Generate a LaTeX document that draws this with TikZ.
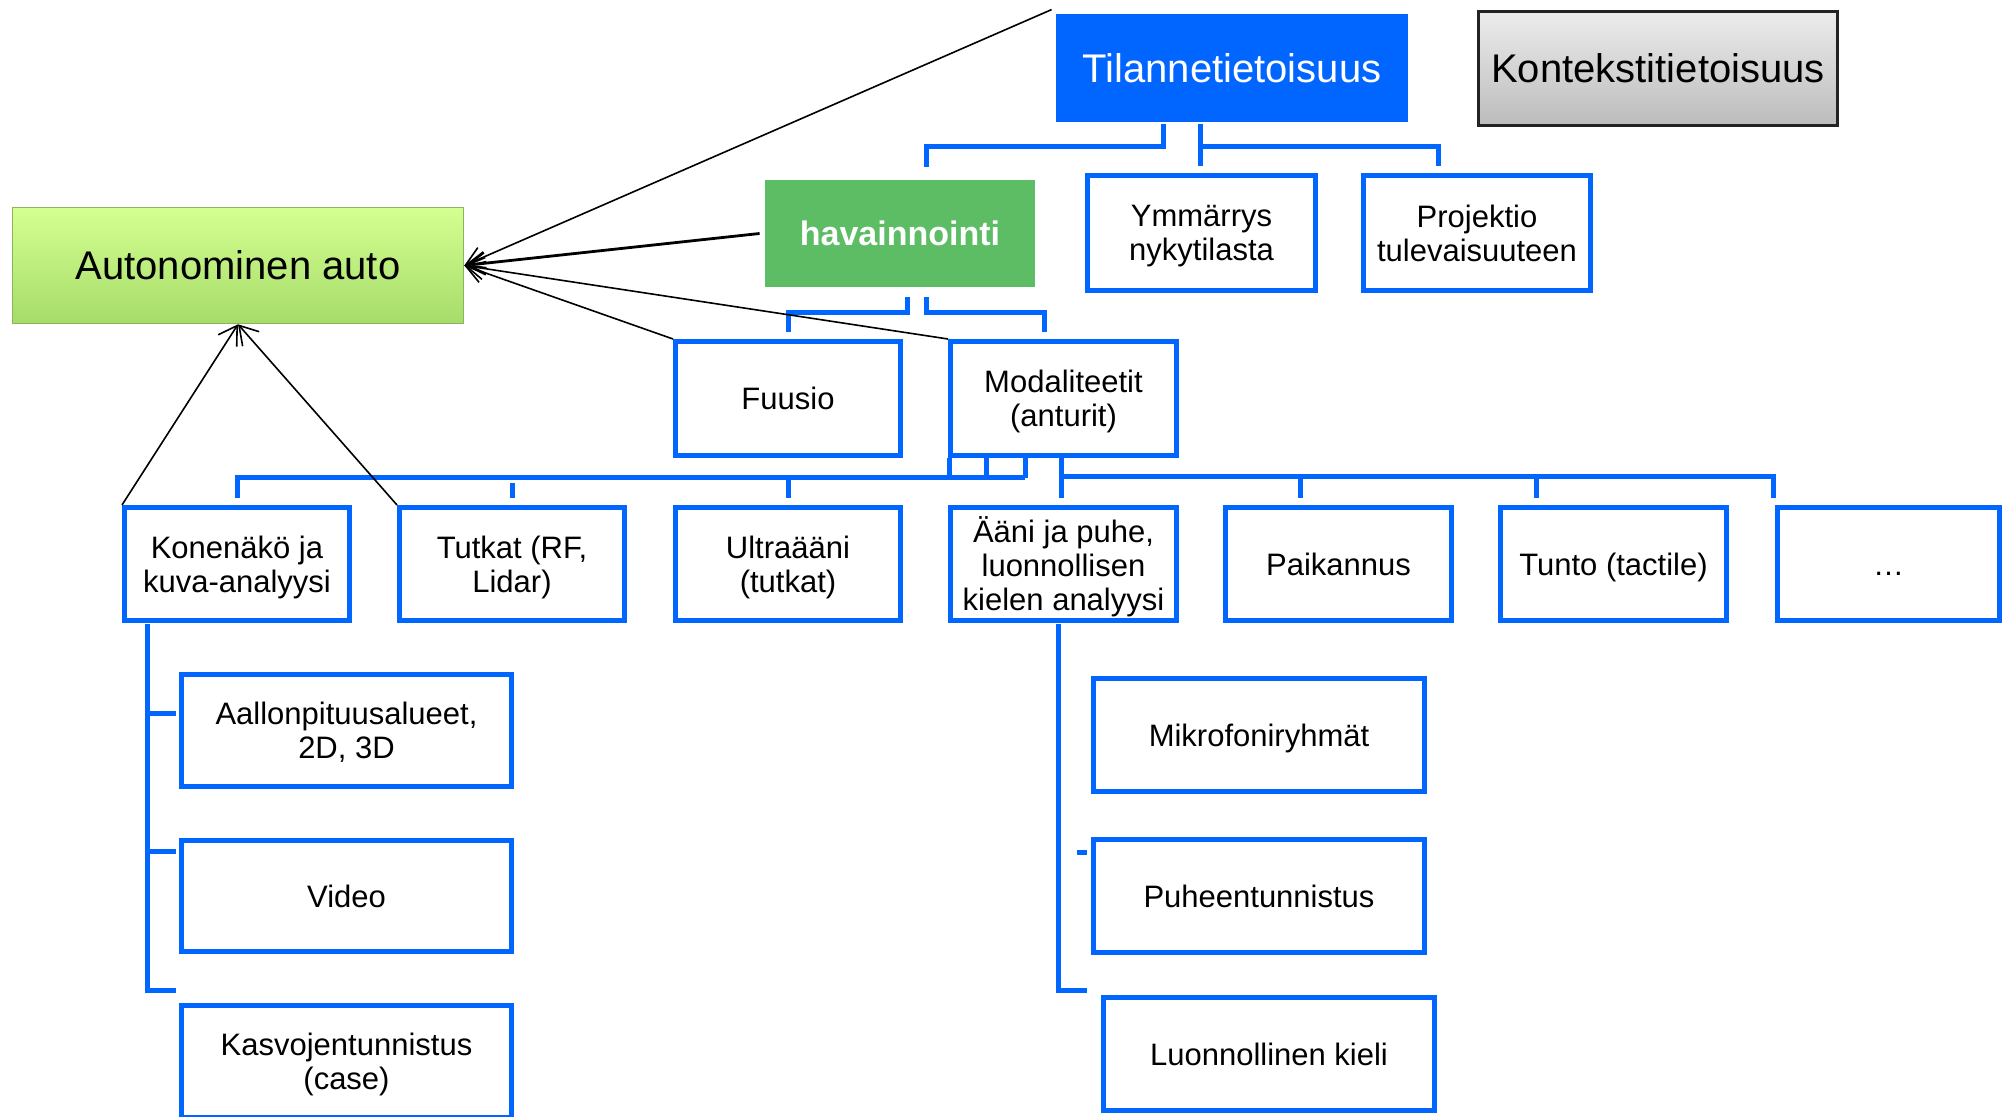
\documentclass[tikz,border=0pt]{standalone}
\usepackage{fontspec}
\setmainfont{Liberation Sans}
\usetikzlibrary{arrows.meta}
\definecolor{bblue}{RGB}{0,102,255}
\definecolor{hgreen}{RGB}{92,189,101}
\definecolor{agreentop}{RGB}{212,255,145}
\definecolor{agreenbot}{RGB}{166,220,106}
\definecolor{agreenln}{RGB}{140,180,95}
\definecolor{kgraytop}{RGB}{236,236,236}
\definecolor{kgraybot}{RGB}{188,188,188}
\begin{document}
\begin{tikzpicture}[x=0.5pt,y=-0.5pt,
  sbox/.style={draw=bblue,line width=2.5pt,fill=white,align=center,inner sep=0pt,
    text depth=0pt,
    minimum width=112.5pt,minimum height=56.5pt,font=\fontsize{15.5}{17}\selectfont},
  wbox/.style={sbox,minimum width=165pt},
  conn/.style={draw=bblue,line width=2.5pt},
  arr/.style={draw=black,line width=0.8pt,-{Straight Barb[length=9pt,width=11pt]}},
  bigtext/.style={font=\fontsize{20}{22}\selectfont,text depth=0pt},
]
\useasboundingbox (0,0) rectangle (2004,1117);
\clip (0,0) rectangle (2004,1117);
\fill[white] (0,0) rectangle (2004,1117);

% top level
\node[bigtext,fill=bblue,text=white,inner sep=0pt,minimum width=176pt,minimum height=54pt] (til) at (1232,68) {Tilannetietoisuus};
\node[bigtext,draw={rgb,255:red,35;green,35;blue,35},line width=1.5pt,top color=kgraytop,bottom color=kgraybot,inner sep=0pt,minimum width=179.5pt,minimum height=57pt] (kon) at (1658,68.5) {Kontekstitietoisuus};
\node[bigtext,draw=agreenln,line width=0.8pt,top color=agreentop,bottom color=agreenbot,inner sep=0pt,minimum width=225.5pt,minimum height=58pt] (auto) at (238,265.5) {Autonominen auto};

% second level
\node[fill=hgreen,text=white,font=\fontsize{17}{19}\selectfont\bfseries,inner sep=0pt,minimum width=135pt,minimum height=53.5pt] (hav) at (900,233.5) {havainnointi};
\node[sbox,minimum width=114pt,minimum height=57.5pt] (ymm) at (1201.5,233) {Ymmärrys\\nykytilasta};
\node[sbox,minimum width=113.5pt,minimum height=57.5pt] (proj) at (1477,233) {Projektio\\tulevaisuuteen};

% third level
\node[sbox,minimum height=57pt] (fuu) at (788,398.5) {Fuusio};
\node[sbox,minimum width=113pt,minimum height=57pt] (mod) at (1063.5,398.5) {Modaliteetit\\(anturit)};

% sensors row
\node[sbox] (kone) at (237,564) {Konenäkö ja\\kuva-analyysi};
\node[sbox] (tut) at (512,564) {Tutkat (RF,\\Lidar)};
\node[sbox] (ult) at (788,564) {Ultraääni\\(tutkat)};
\node[sbox,minimum width=113pt] (aan) at (1063.5,564) {Ääni ja puhe,\\luonnollisen\\kielen analyysi};
\node[sbox,minimum width=113pt] (paik) at (1338.5,564) {Paikannus};
\node[sbox,minimum width=113pt] (tun) at (1613.5,564) {Tunto (tactile)};
\node[sbox,minimum width=111pt,text height=11.1pt] (dots) at (1888.5,564) {…};

% vision children
\node[wbox,minimum height=56pt] (aal) at (346.5,730.5) {Aallonpituusalueet,\\2D, 3D};
\node[wbox,minimum height=55.5pt] (vid) at (346.5,896) {Video};
\node[wbox,minimum height=56pt] (kas) at (346.5,1061.5) {Kasvojentunnistus\\(case)};

% audio children
\node[wbox,minimum width=165.5pt] (mik) at (1259,735) {Mikrofoniryhmät};
\node[wbox,minimum width=165.5pt] (puh) at (1259,896) {Puheentunnistus};
\node[wbox,minimum width=165.5pt] (luo) at (1269,1054) {Luonnollinen kieli};

% blue bracket connectors
\draw[conn] (1163,124) -- (1163,147) -- (926,147) -- (926,167);
\draw[conn] (1200,124) -- (1200,166);
\draw[conn] (1200,147) -- (1438,147) -- (1438,166);
\draw[conn] (907,297) -- (907,313) -- (788,313) -- (788,332);
\draw[conn] (926,297) -- (926,313) -- (1044,313) -- (1044,332);

\draw[conn] (949,458) -- (949,478);
\draw[conn] (986,458) -- (986,478);
\draw[conn] (1025,458) -- (1025,478);
\draw[conn] (237,498) -- (237,478) -- (1025,478);
\draw[conn] (512,483) -- (512,498);
\draw[conn] (788,478) -- (788,498);
\draw[conn] (1061,458) -- (1061,498);
\draw[conn] (1061,477) -- (1773,477) -- (1773,498);
\draw[conn] (1300,477) -- (1300,498);
\draw[conn] (1536,477) -- (1536,498);

\draw[conn] (147,624) -- (147,990) -- (176,990);
\draw[conn] (147,713) -- (176,713);
\draw[conn] (147,851) -- (176,851);
\draw[conn] (1058,624) -- (1058,990) -- (1087,990);
\draw[conn] (1077,852) -- (1087,852);

% black arrows into the car
\draw[arr] ([shift={(-4,-4)}]til.north west) -- (auto.east);
\draw[arr,line width=1.4pt] ([xshift=-2.5pt]hav.west) -- (auto.east);
\draw[arr] (fuu.north west) -- (auto.east);
\draw[arr] (mod.north west) -- (auto.east);
\draw[arr] (kone.north west) -- (auto.south);
\draw[arr] (tut.north west) -- (auto.south);
\end{tikzpicture}
\end{document}
